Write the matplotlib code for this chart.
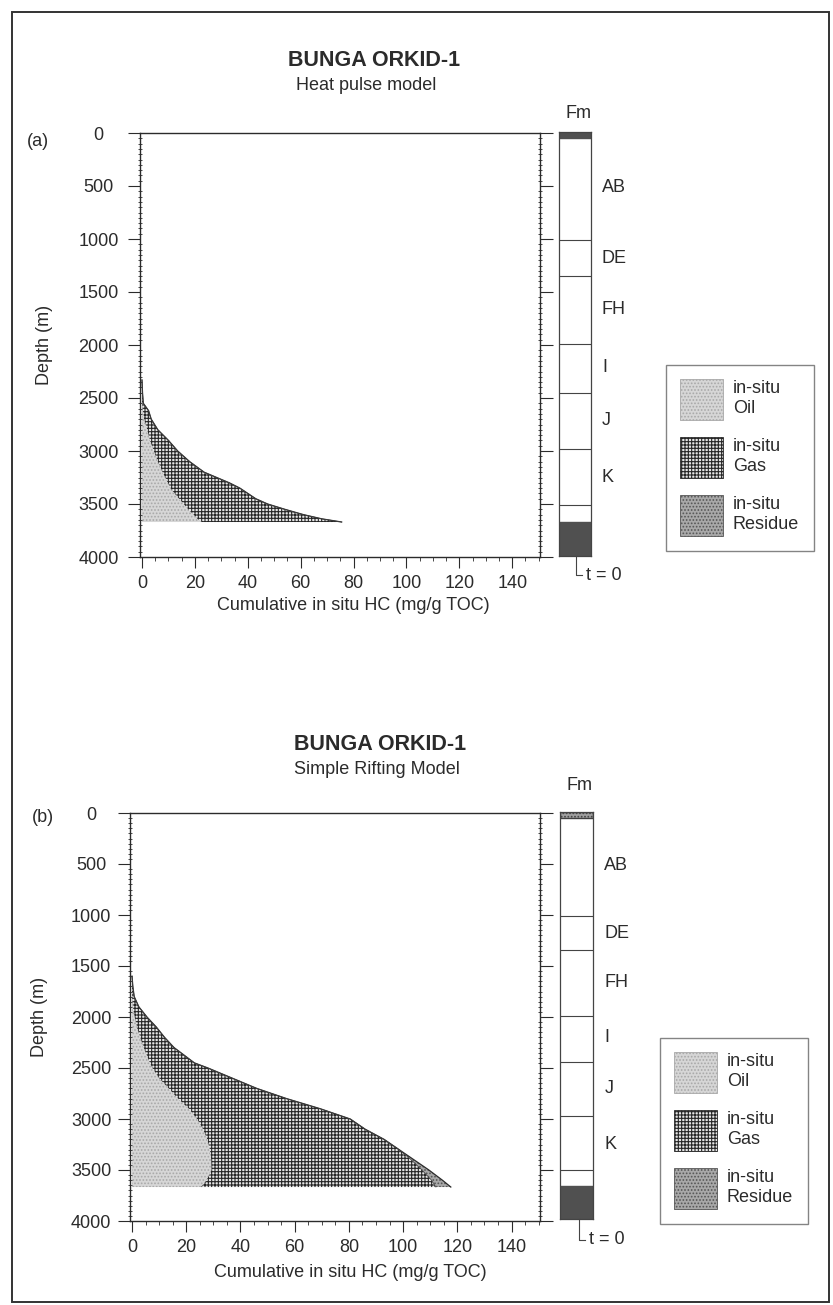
import matplotlib
matplotlib.use("Agg")
import matplotlib.pyplot as plt
from matplotlib.patches import Patch, Rectangle
from matplotlib.ticker import MultipleLocator
import numpy as np

plt.rcParams['font.family'] = ['Liberation Sans', 'DejaVu Sans']
plt.rcParams['hatch.linewidth'] = 0.8
plt.rcParams['text.color'] = '#2b2b2b'
plt.rcParams['axes.labelcolor'] = '#2b2b2b'
plt.rcParams['xtick.color'] = '#2b2b2b'
plt.rcParams['ytick.color'] = '#2b2b2b'

# ---------------- data ----------------
# Panel (a) heat pulse model
depth_a = [2330, 2450, 2550, 2620, 2700, 2800, 2900, 3000, 3100, 3200, 3300,
           3350, 3400, 3450, 3500, 3550, 3600, 3640, 3670]
oil_a = [0, 0, 0, 0.3, 0.8, 2.0, 3.0, 4.5, 6.0, 7.8, 9.8,
         10.7, 12.3, 14.0, 15.8, 17.5, 19.5, 21.0, 22.6]
gas_a = [0, 0.2, 0.5, 2.2, 2.7, 4.0, 7.0, 9.0, 12.0, 15.7, 23.2,
         26.3, 27.7, 29.0, 31.7, 36.5, 41.5, 47.0, 52.9]
residue_a = [0] * 19

# Panel (b) simple rifting model
depth_b = [1600, 1700, 1800, 1900, 2000, 2100, 2200, 2300, 2400, 2450, 2500,
           2600, 2700, 2800, 2900, 3000, 3100, 3200, 3300, 3400, 3500, 3600, 3667]
oil_b = [0, 0, 0, 0.3, 1.0, 1.8, 3.0, 4.3, 5.8, 6.6, 7.5,
         10.0, 13.5, 17.0, 21.0, 24.0, 26.2, 27.8, 28.7, 29.2, 29.3, 27.5, 25.4]
gas_b = [0, 0.3, 0.8, 2.2, 4.5, 7.2, 9.0, 11.2, 14.7, 16.4, 20.5,
         27.0, 32.5, 40.0, 48.5, 56.5, 59.8, 65.2, 69.8, 73.8, 77.7, 83.0, 86.7]
residue_b = [0, 0, 0, 0, 0, 0, 0, 0, 0, 0, 0,
             0, 0, 0, 0, 0, 0, 0, 0, 1.0, 2.5, 4.0, 5.5]

# formation column
fm_names = ['AB', 'DE', 'FH', 'I', 'J', 'K']
fm_label_depths = [528, 1198, 1679, 2217, 2717, 3264]
fm_boundaries = [1020, 1360, 2000, 2460, 2990, 3520]
td_depth = 3680

y_ticks = [0, 500, 1000, 1500, 2000, 2500, 3000, 3500, 4000]
x_ticks = [0, 20, 40, 60, 80, 100, 120, 140]

legend_labels = ['in-situ\nOil', 'in-situ\nGas', 'in-situ\nResidue']

# ---------------- styles ----------------
OIL = dict(facecolor='#d6d6d6', edgecolor='#a8a8a8', hatch='.....')
GAS = dict(facecolor='#e6e6e6', edgecolor='#262626', hatch='+++++')
RES = dict(facecolor='#a8a8a8', edgecolor='#555555', hatch='.....')
INK = '#2b2b2b'
FS = 13

W, H = 833, 1305
fig = plt.figure(figsize=(W / 100, H / 100), dpi=100)


def fx(px):
    return px / W


def fy(py):
    return 1 - py / H


def rect(l, t, r, b):
    return [fx(l), fy(b), fx(r) - fx(l), fy(t) - fy(b)]


def panel(box, depth, oil, gas, res, ypad, xlab_pos, ylab_x):
    ax = fig.add_axes(rect(*box))
    d = np.array(depth)
    c1 = np.array(oil)
    c2 = c1 + np.array(gas)
    c3 = c2 + np.array(res)
    ax.fill_betweenx(d, 0, c1, linewidth=0, **OIL)
    ax.fill_betweenx(d, c1, c2, linewidth=0, **GAS)
    ax.fill_betweenx(d, c2, c3, linewidth=0, **RES)
    ax.plot(c3, d, color=INK, lw=0.9)
    ax.plot(c2, d, color='#404040', lw=0.5)
    ax.set_ylim(4000, 0)
    ax.set_xlim(-0.75, 150.5)
    ax.set_yticks(y_ticks)
    ax.set_xticks(x_ticks)
    ax.yaxis.set_minor_locator(MultipleLocator(50))
    ax.xaxis.set_minor_locator(MultipleLocator(5))
    ax.tick_params(axis='y', which='major', left=True, right=True, direction='out',
                   length=9, width=0.8, labelsize=FS, pad=ypad)
    ax.tick_params(axis='y', which='minor', left=True, right=True, direction='inout',
                   length=3.5, width=0.6)
    ax.tick_params(axis='x', which='major', bottom=True, top=False, direction='out',
                   length=8, width=0.8, labelsize=FS, pad=5)
    ax.tick_params(axis='x', which='minor', bottom=True, top=False, direction='out',
                   length=3, width=0.6)
    for lab in ax.get_yticklabels():
        lab.set_horizontalalignment('center')
    for sp in ax.spines.values():
        sp.set_color(INK)
        sp.set_linewidth(1.0)
    ax.set_xlabel('Cumulative in situ HC (mg/g TOC)', fontsize=FS)
    ax.xaxis.set_label_coords(*xlab_pos)
    ax.set_ylabel('Depth (m)', fontsize=FS)
    ax.yaxis.set_label_coords(ylab_x, 0.5)
    return ax


def column(box, top_style, fm_y, t0_x, t0_y):
    cax = fig.add_axes(rect(*box))
    cax.set_ylim(4000, 0)
    cax.set_xlim(0, 1)
    cax.set_xticks([])
    cax.set_yticks([])
    for sp in cax.spines.values():
        sp.set_color('#444444')
        sp.set_linewidth(0.9)
    cax.axhspan(0, 55, **top_style)
    cax.axhspan(td_depth, 4000, facecolor='#505050', edgecolor='#505050')
    cax.hlines(fm_boundaries, 0, 1, color='#444444', lw=0.8)
    tr = cax.get_yaxis_transform()
    for name, dep in zip(fm_names, fm_label_depths):
        cax.text(1.34, dep, name, transform=tr, fontsize=FS, va='center', ha='left')
    cax.text(0.6, fm_y, 'Fm', transform=tr, fontsize=FS, va='center', ha='center')
    cax.plot([t0_x, t0_x, t0_x + 0.18], [4000, t0_y, t0_y], transform=tr,
             color='#444444', lw=0.8, clip_on=False)
    cax.text(t0_x + 0.3, t0_y, 't = 0', transform=tr, fontsize=FS, va='center', ha='left')
    return cax


def legend(anchor):
    handles = [Patch(**OIL, linewidth=0.6), Patch(**GAS, linewidth=0.6), Patch(**RES, linewidth=0.6)]
    lg = fig.legend(handles, legend_labels, loc='upper left', bbox_to_anchor=anchor,
                    bbox_transform=fig.transFigure, fontsize=FS, frameon=True,
                    fancybox=False, shadow=False, handlelength=2.35, handleheight=3.1,
                    handletextpad=0.55, labelspacing=0.95, borderpad=0.8, borderaxespad=0)
    fr = lg.get_frame()
    fr.set_edgecolor('#666666')
    fr.set_linewidth(1.0)
    return lg


# ---------------- panel (a) ----------------
panel((140, 133, 540, 557), depth_a, oil_a, gas_a, residue_a, ypad=21,
      xlab_pos=(0.533, -0.095), ylab_x=-0.2175)
column((559, 132, 591, 556), dict(facecolor='#505050', edgecolor='#505050'), -170, 0.53, 4180)
legend((fx(666), fy(365)))
fig.text(fx(374), fy(61), 'BUNGA ORKID-1', ha='center', va='center', fontsize=15.5, weight='bold')
fig.text(fx(366), fy(85), 'Heat pulse model', ha='center', va='center', fontsize=FS)
fig.text(fx(38), fy(142), '(a)', ha='center', va='center', fontsize=FS)

# ---------------- panel (b) ----------------
panel((130, 813, 540, 1221), depth_b, oil_b, gas_b, residue_b, ypad=19,
      xlab_pos=(0.537, -0.105), ylab_x=-0.2)
column((560, 812, 593, 1219), dict(facecolor='#a0a0a0', edgecolor='#404040', hatch='.....'),
       -260, 0.58, 4206)
legend((fx(660), fy(1038)))
fig.text(fx(380), fy(745), 'BUNGA ORKID-1', ha='center', va='center', fontsize=15.5, weight='bold')
fig.text(fx(377), fy(770), 'Simple Rifting Model', ha='center', va='center', fontsize=FS)
fig.text(fx(43), fy(817), '(b)', ha='center', va='center', fontsize=FS)

# outer frame
fig.add_artist(Rectangle((fx(12), fy(1302)), fx(829) - fx(12), fy(12) - fy(1302),
                         transform=fig.transFigure, fill=False, lw=1.4, ec='#333333'))

fig.savefig('out.png', dpi=100)
